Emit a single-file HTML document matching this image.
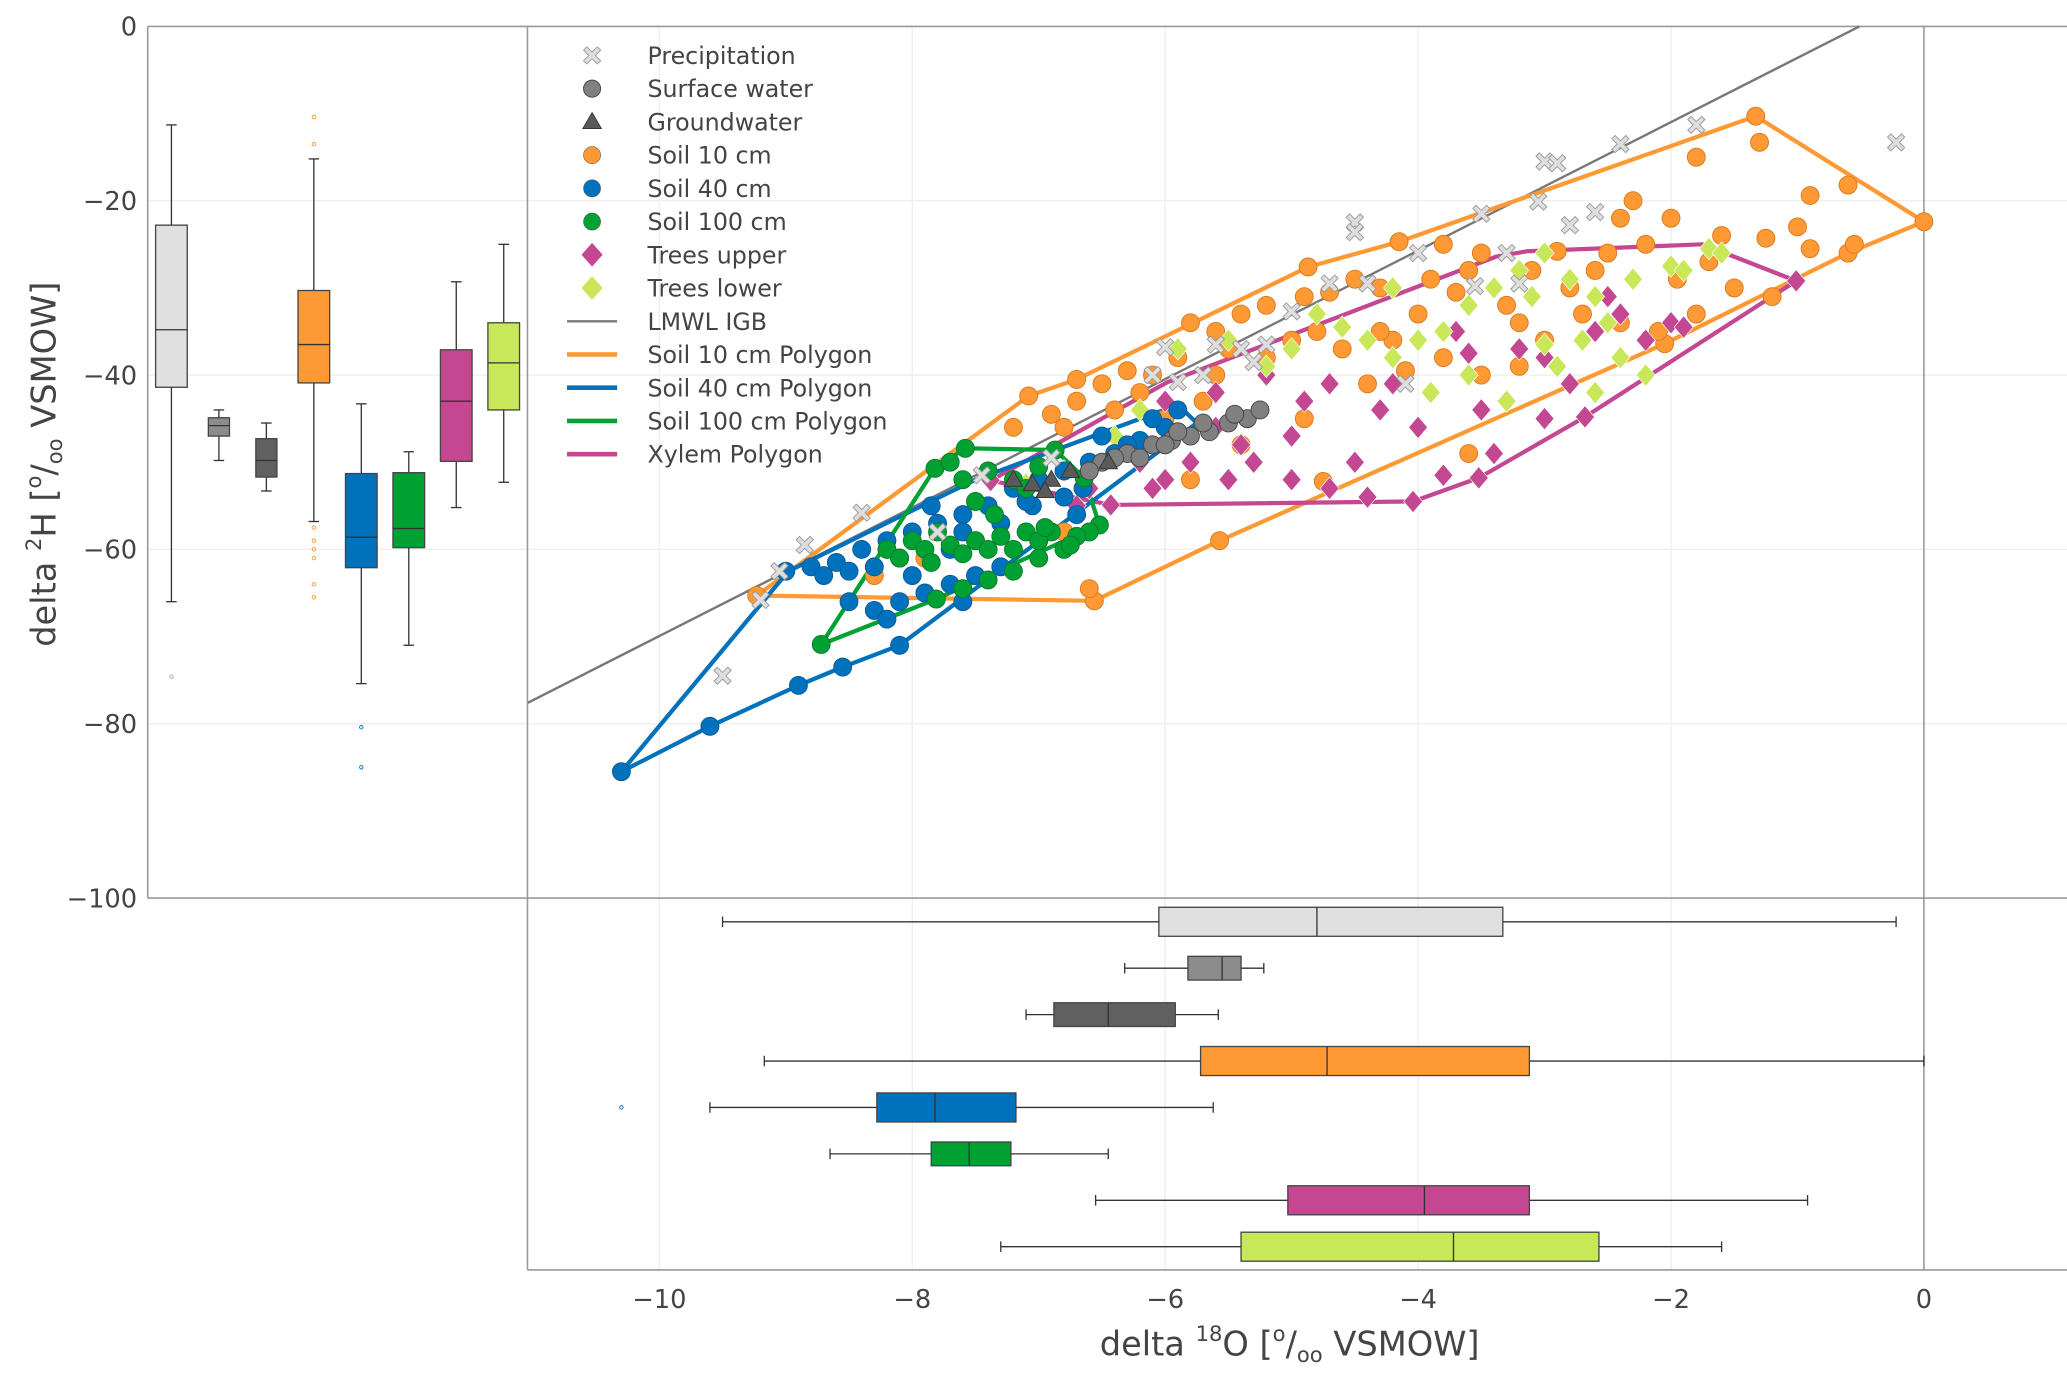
<!DOCTYPE html>
<html><head><meta charset="utf-8"><style>
html,body{margin:0;padding:0;background:#fff;}
svg{display:block;font-family:"DejaVu Sans","Liberation Sans",sans-serif;}
</style></head><body>
<svg id="chart" width="2067" height="1379" viewBox="0 0 1567.5 1045.7" xmlns="http://www.w3.org/2000/svg">
<g id="grid"></g>
<g id="frame"></g>
<g id="leftbox"></g>
<g id="botbox"></g>
<g id="polys"></g>
<g id="pts"></g>
<g id="ticks"></g>
<text x="978" y="1028" font-size="25.5" text-anchor="middle" fill="#444">delta <tspan font-size="16" dy="-11">18</tspan><tspan dy="11">O [</tspan><tspan font-size="16" dy="-11">o</tspan><tspan dy="11">/</tspan><tspan font-size="16" dy="5">oo</tspan><tspan dy="-5"> VSMOW]</tspan></text>
<text transform="translate(42,352) rotate(-90)" font-size="25.5" text-anchor="middle" fill="#444">delta <tspan font-size="16" dy="-11">2</tspan><tspan dy="11">H [</tspan><tspan font-size="16" dy="-11">o</tspan><tspan dy="11">/</tspan><tspan font-size="16" dy="5">oo</tspan><tspan dy="-5"> VSMOW]</tspan></text>
<g id="legend"></g>
</svg>
<script>
const xTicks=[-10,-8,-6,-4,-2,0];
const yTicks=[0,-20,-40,-60,-80,-100];
const lmwlSlope=7.37, lmwlIntercept=3.76;
const soil10PolyX=[-9.23,-7.08,-6.7,-4.87,-4.15,-1.33,0,-0.6,-2.05,-5.57,-6.56,-9.23];
const soil10PolyY=[-65.3,-42.4,-40.5,-27.6,-24.7,-10.3,-22.4,-26,-36.4,-59,-65.9,-65.3];
const soil40PolyX=[-10.3,-9.6,-8.9,-8.55,-8.1,-5.75,-5.9,-7.5,-8.98,-10.3];
const soil40PolyY=[-85.5,-80.3,-75.6,-73.5,-71,-45.5,-43.4,-52,-62.5,-85.5];
const soil100PolyX=[-8.72,-7.82,-7.58,-6.87,-6.64,-6.52,-7.81,-8.72];
const soil100PolyY=[-70.9,-50.7,-48.4,-48.6,-51.8,-57.2,-65.7,-70.9];
const xylemPolyX=[-7.38,-6.43,-4.04,-3.52,-2.68,-1.01,-1.75,-3.14,-3.38,-5.98,-7.38];
const xylemPolyY=[-52.1,-54.9,-54.5,-51.8,-44.8,-29.2,-25,-25.8,-26.4,-40.8,-52.1];
const soil10X=[-9.23,-7.08,-6.7,-4.87,-4.15,-1.33,0,-0.6,-2.05,-5.57,-6.56,-6.6,-1.3,-1.8,-0.9,-0.6,-0.9,-0.55,-1.25,-1.6,-2.4,-2.3,-2,-2.2,-2.5,-2.9,-3.1,-3.5,-3.6,-3.8,-3.9,-4.3,-4.5,-4.7,-4.9,-5.2,-5.4,-5.6,-5.8,-5.5,-5.2,-5.0,-4.8,-5.9,-6.1,-6.3,-6.5,-6.7,-6.9,-7.2,-6.8,-6.4,-6.2,-4.6,-4.2,-3.8,-3.5,-3.2,-3.0,-2.7,-2.4,-2.1,-1.8,-1.5,-1.2,-1.7,-3.3,-4.0,-4.4,-4.9,-5.4,-5.8,-4.75,-3.6,-4.3,-5.6,-6.0,-7.5,-7.9,-8.3,-6.8,-5.7,-3.7,-2.8,-2.6,-1.95,-1.0,-3.2,-4.1];
const soil10Y=[-65.3,-42.4,-40.5,-27.6,-24.7,-10.3,-22.4,-26,-36.4,-59,-65.9,-64.5,-13.3,-15,-19.4,-18.2,-25.5,-25,-24.3,-24,-22,-20,-22,-25,-26,-25.8,-28,-26,-28,-25,-29,-30,-29,-30.5,-31,-32,-33,-35,-34,-37,-38,-36,-35,-38,-40,-39.5,-41,-43,-44.5,-46,-46,-44,-42,-37,-36,-38,-40,-39,-36,-33,-34,-35,-33,-30,-31,-27,-32,-33,-41,-45,-48,-52,-52.2,-49,-35,-40,-45,-59,-61,-63,-58,-43,-30.5,-30,-28,-29,-23,-34,-39.5];
const soil40X=[-10.3,-9.6,-8.9,-8.55,-8.1,-9.0,-8.8,-8.6,-8.4,-8.2,-8.0,-7.8,-7.6,-7.4,-7.2,-7.0,-6.8,-6.6,-6.4,-6.2,-6.0,-5.9,-6.1,-6.3,-6.5,-8.5,-8.3,-8.1,-8.5,-8.3,-8.1,-7.9,-7.7,-7.5,-7.3,-8.2,-7.6,-7.85,-7.6,-7.3,-7.05,-6.65,-6.8,-7.0,-8.7,-8.0,-7.7,-6.7,-7.1];
const soil40Y=[-85.5,-80.3,-75.6,-73.5,-71,-62.5,-62,-61.5,-60,-59,-58,-57,-56,-55,-53,-52,-51,-50,-49,-47.5,-46,-44,-45,-48,-47,-62.5,-62,-61,-66,-67,-66,-65,-64,-63,-62,-68,-66,-55,-58,-57,-55,-53,-54,-59,-63,-63,-60,-56,-54.5];
const soil100X=[-8.72,-7.82,-7.58,-6.87,-6.64,-6.52,-7.81,-7.6,-7.4,-7.2,-7.0,-6.8,-6.6,-8.0,-7.9,-7.7,-7.5,-7.3,-7.1,-6.9,-6.7,-7.6,-7.4,-7.2,-7.0,-8.2,-8.1,-7.8,-7.6,-7.4,-7.2,-7.0,-7.7,-7.5,-7.35,-7.1,-6.95,-6.75,-7.85];
const soil100Y=[-70.9,-50.7,-48.4,-48.6,-51.8,-57.2,-65.7,-64.5,-63.5,-62.5,-61,-60,-58,-59,-60,-59.5,-59,-58.5,-58,-58,-58.5,-60.5,-60,-60,-59,-60,-61,-58,-52,-51,-52,-50.5,-50,-54.5,-56,-53,-57.5,-59.5,-61.5];
const treesUpperX=[-7.38,-6.43,-4.04,-3.52,-2.68,-1.01,-4.7,-4.4,-3.8,-3.4,-3.0,-3.5,-4.0,-4.3,-4.5,-5.0,-5.3,-5.6,-5.8,-6.1,-6.0,-5.5,-5.0,-4.7,-4.9,-5.2,-5.6,-6.0,-3.0,-2.6,-2.4,-2.2,-2.0,-2.5,-3.2,-3.6,-4.2,-1.9,-5.4,-6.2,-6.7,-3.7,-2.8,-6.6];
const treesUpperY=[-52.1,-54.9,-54.5,-51.8,-44.8,-29.2,-53,-54,-51.5,-49,-45,-44,-46,-44,-50,-52,-50,-46,-50,-53,-52,-52,-47,-41,-43,-40,-42,-43,-38,-35,-33,-36,-34,-31,-37,-37.5,-41,-34.5,-48,-50,-55,-35,-41,-53];
const treesLowerX=[-1.7,-1.6,-2.0,-2.3,-2.6,-2.8,-3.0,-3.2,-3.4,-3.6,-3.8,-4.0,-4.2,-4.4,-4.6,-4.8,-5.0,-5.2,-2.5,-2.4,-2.2,-2.9,-3.3,-3.6,-3.9,-4.2,-1.9,-2.7,-3.1,-5.5,-5.9,-6.2,-6.4,-6.8,-7.1,-7.0,-3.0,-2.6];
const treesLowerY=[-25.5,-26,-27.5,-29,-31,-29,-26,-28,-30,-32,-35,-36,-38,-36,-34.5,-33,-37,-39,-34,-38,-40,-39,-43,-40,-42,-30,-28,-36,-31,-36,-37,-44,-47,-51,-52.5,-51,-36.5,-42];
const surfaceX=[-6.5,-6.3,-6.1,-5.95,-5.8,-5.65,-5.5,-5.35,-5.25,-6.6,-6.2,-5.9,-5.7,-5.45,-6.4,-6.0];
const surfaceY=[-50,-49,-48,-47.5,-47,-46.5,-45.5,-45,-44,-51,-49.5,-46.5,-45.5,-44.5,-49.5,-48];
const groundX=[-6.75,-6.9,-7.05,-7.2,-6.45,-6.95];
const groundY=[-51,-52,-52.5,-52,-50,-53.3];
const precipX=[-9.2,-9.5,-9.05,-8.85,-8.4,-7.8,-7.45,-6.0,-6.1,-5.9,-5.6,-5.4,-5.2,-5.0,-4.7,-4.4,-4.5,-4.5,-4.0,-3.5,-3.3,-3.2,-3.0,-2.9,-2.8,-2.6,-2.4,-1.8,-0.22,-3.05,-4.1,-5.3,-6.9,-3.55,-5.7];
const precipY=[-65.8,-74.5,-62.5,-59.5,-55.8,-58,-51.5,-36.8,-40,-40.8,-36.5,-37,-36.5,-32.7,-29.5,-29.5,-22.5,-23.6,-26,-21.5,-26,-29.5,-15.5,-15.7,-22.8,-21.3,-13.5,-11.3,-13.3,-20.1,-41,-38.5,-49.5,-29.8,-40];
const boxNames=["precipitation","surface-water","groundwater","soil-10cm","soil-40cm","soil-100cm","trees-upper","trees-lower"];
const boxColors=["#e0e0e0","#8c8c8c","#606060","#ff9933","#0072bd","#00a133","#c44891","#c8e85a"];
const yLo=[-66,-49.8,-53.3,-56.8,-75.4,-71,-55.2,-52.3];
const yQ1=[-41.4,-47,-51.7,-40.9,-62.1,-59.8,-49.9,-44];
const yMed=[-34.8,-45.8,-49.8,-36.5,-58.6,-57.6,-43,-38.6];
const yQ3=[-22.8,-44.9,-47.3,-30.3,-51.3,-51.2,-37.1,-34];
const yHi=[-11.3,-44,-45.5,-15.2,-43.3,-48.8,-29.3,-25];
const yOutCat=[0,3,3,3,3,3,3,3,3,4,4];
const yOutVal=[-74.6,-10.4,-13.5,-57.5,-59,-60,-61,-64,-65.5,-80.4,-85];
const xLo=[-9.5,-6.32,-7.1,-9.17,-9.6,-8.65,-6.55,-7.3];
const xQ1=[-6.05,-5.82,-6.88,-5.72,-8.28,-7.85,-5.03,-5.4];
const xMed=[-4.8,-5.55,-6.45,-4.72,-7.82,-7.55,-3.95,-3.72];
const xQ3=[-3.33,-5.4,-5.92,-3.12,-7.18,-7.22,-3.12,-2.57];
const xHi=[-0.22,-5.22,-5.58,0,-5.62,-6.45,-0.92,-1.6];
const xOutCat=[4];
const xOutVal=[-10.3];
const legendLabels=["Precipitation","Surface water","Groundwater","Soil 10 cm","Soil 40 cm","Soil 100 cm","Trees upper","Trees lower","LMWL IGB","Soil 10 cm Polygon","Soil 40 cm Polygon","Soil 100 cm Polygon","Xylem Polygon"];

const NS="http://www.w3.org/2000/svg";
const X0=1459, XU=95.9, Y0=20, YU=6.61, XR=1567.5;
function xS(v){return X0+v*XU;}
function yS(v){return Y0-v*YU;}
function mk(parent,tag,attrs){const e=document.createElementNS(NS,tag);for(const k in attrs)e.setAttribute(k,attrs[k]);parent.appendChild(e);return e;}
const G=id=>document.getElementById(id);

const grid=G('grid');
yTicks.forEach(t=>{if(t===0||t===-100)return;const l=mk(grid,'line',{x1:112,x2:XR,y1:yS(t),y2:yS(t),stroke:'#eeeeee','stroke-width':1});

});
xTicks.forEach(t=>{if(t===0)return;const l=mk(grid,'line',{x1:xS(t),x2:xS(t),y1:20,y2:963,stroke:'#eeeeee','stroke-width':1});

});
const fr=G('frame');
[[112,20,XR,20],[112,20,112,681],[400,20,400,963],[112,681,XR,681],[400,963,XR,963],[xS(0),20,xS(0),963]].forEach(s=>{
const l=mk(fr,'line',{x1:s[0],y1:s[1],x2:s[2],y2:s[3],stroke:'#999','stroke-width':1.2});

});
const tk=G('ticks');
yTicks.forEach(t=>{const e=mk(tk,'text',{x:104,y:yS(t)+7,'font-size':19.5,'text-anchor':'end',fill:'#444'});e.textContent=(t<0?'\u2212'+(-t):t);

});
xTicks.forEach(t=>{const e=mk(tk,'text',{x:xS(t),y:992,'font-size':19.5,'text-anchor':'middle',fill:'#444'});e.textContent=(t<0?'\u2212'+(-t):t);

});

const lb=G('leftbox');
boxNames.forEach((n,i)=>{const cx=130+i*36, w=(i===1||i===2)?16:24;
const g=mk(lb,'g',{});


mk(g,'line',{x1:cx,x2:cx,y1:yS(yHi[i]),y2:yS(yLo[i]),stroke:'#333','stroke-width':1});
mk(g,'line',{x1:cx-4,x2:cx+4,y1:yS(yHi[i]),y2:yS(yHi[i]),stroke:'#333','stroke-width':1});
mk(g,'line',{x1:cx-4,x2:cx+4,y1:yS(yLo[i]),y2:yS(yLo[i]),stroke:'#333','stroke-width':1});
mk(g,'rect',{x:cx-w/2,y:yS(yQ3[i]),width:w,height:yS(yQ1[i])-yS(yQ3[i]),fill:boxColors[i],stroke:'#444','stroke-width':1});
mk(g,'line',{x1:cx-w/2,x2:cx+w/2,y1:yS(yMed[i]),y2:yS(yMed[i]),stroke:'#333','stroke-width':1});});
yOutCat.forEach((c,j)=>{const o=mk(lb,'circle',{cx:130+c*36,cy:yS(yOutVal[j]),r:1.3,fill:'none',stroke:c===0?'#aaa':boxColors[c],'stroke-width':0.7});

});
const bb=G('botbox');
boxNames.forEach((n,i)=>{const cy=699+i*35.2, h=(i===1||i===2||i===5)?18:22;
const g=mk(bb,'g',{});


mk(g,'line',{x1:xS(xLo[i]),x2:xS(xHi[i]),y1:cy,y2:cy,stroke:'#333','stroke-width':1});
mk(g,'line',{x1:xS(xLo[i]),x2:xS(xLo[i]),y1:cy-4,y2:cy+4,stroke:'#333','stroke-width':1});
mk(g,'line',{x1:xS(xHi[i]),x2:xS(xHi[i]),y1:cy-4,y2:cy+4,stroke:'#333','stroke-width':1});
mk(g,'rect',{x:xS(xQ1[i]),y:cy-h/2,width:xS(xQ3[i])-xS(xQ1[i]),height:h,fill:boxColors[i],stroke:'#444','stroke-width':1});
mk(g,'line',{x1:xS(xMed[i]),x2:xS(xMed[i]),y1:cy-h/2,y2:cy+h/2,stroke:'#333','stroke-width':1});});
xOutCat.forEach((c,j)=>{const o=mk(bb,'circle',{cx:xS(xOutVal[j]),cy:699+c*35.2,r:1.3,fill:'none',stroke:boxColors[c],'stroke-width':0.7});

});

const pg=G('polys');
const xa=-11.04, xb=(-lmwlIntercept)/lmwlSlope;
const lm=mk(pg,'line',{x1:xS(xa),y1:yS(lmwlSlope*xa+lmwlIntercept),x2:xS(xb),y2:yS(0),stroke:'#777','stroke-width':1.8});


function poly(xs,ys,col,name){const p=mk(pg,'polyline',{points:xs.map((x,i)=>xS(x)+','+yS(ys[i])).join(' '),fill:'none',stroke:col,'stroke-width':3.2,'stroke-linejoin':'round'});

}
poly(soil10PolyX,soil10PolyY,'#ff9933','soil-10cm-polygon');

const pt=G('pts');
function circles(xs,ys,fill,stroke,name){xs.forEach((x,i)=>{const c=mk(pt,'circle',{cx:xS(x),cy:yS(ys[i]),r:6.8,fill:fill,stroke:stroke,'stroke-width':0.7});

});}
function diamonds(xs,ys,fill,name){xs.forEach((x,i)=>{const cx=xS(x),cy=yS(ys[i]),s=8.5;const d=mk(pt,'polygon',{points:`${cx},${cy-s} ${cx+s*0.85},${cy} ${cx},${cy+s} ${cx-s*0.85},${cy}`,fill:fill,stroke:'#fff','stroke-width':0.5});

});}
function xmark(cx,cy,s){return `M${cx-s},${cy-s+2.5} L${cx-s+2.5},${cy-s} L${cx},${cy-2.5} L${cx+s-2.5},${cy-s} L${cx+s},${cy-s+2.5} L${cx+2.5},${cy} L${cx+s},${cy+s-2.5} L${cx+s-2.5},${cy+s} L${cx},${cy+2.5} L${cx-s+2.5},${cy+s} L${cx-s},${cy+s-2.5} L${cx-2.5},${cy} Z`;}
circles(soil10X,soil10Y,'#ff9933','#d97a1f','soil-10cm-point');
diamonds(treesUpperX,treesUpperY,'#c44891','trees-upper-point');
diamonds(treesLowerX,treesLowerY,'#c8e85a','trees-lower-point');
poly(xylemPolyX,xylemPolyY,'#c44891','xylem-polygon');
circles(soil40X,soil40Y,'#0072bd','#0a5a94','soil-40cm-point');
poly(soil40PolyX,soil40PolyY,'#0072bd','soil-40cm-polygon');
circles(soil100X,soil100Y,'#00a133','#0a7a2a','soil-100cm-point');
poly(soil100PolyX,soil100PolyY,'#00a133','soil-100cm-polygon');
circles(surfaceX,surfaceY,'#808080','#444','surface-water-point');
groundX.forEach((x,i)=>{const cx=xS(x),cy=yS(groundY[i]);const t=mk(pt,'polygon',{points:`${cx},${cy-7} ${cx+7},${cy+5} ${cx-7},${cy+5}`,fill:'#5a5a5a',stroke:'#333','stroke-width':0.7});

});
precipX.forEach((x,i)=>{const p=mk(pt,'path',{d:xmark(xS(x),yS(precipY[i]),6.5),fill:'#dedede',stroke:'#999','stroke-width':0.7});

});

const lg=G('legend');
legendLabels.forEach((lab,i)=>{const y=42+i*25.2, mx=449;
const g=mk(lg,'g',{});


if(i===0) mk(g,'path',{d:xmark(mx,y,6.5),fill:'#dedede',stroke:'#999','stroke-width':0.7});
else if(i===1) mk(g,'circle',{cx:mx,cy:y,r:6.5,fill:'#808080',stroke:'#444','stroke-width':0.7});
else if(i===2) mk(g,'polygon',{points:`${mx},${y-7} ${mx+7},${y+5} ${mx-7},${y+5}`,fill:'#5a5a5a',stroke:'#333','stroke-width':0.7});
else if(i<6) mk(g,'circle',{cx:mx,cy:y,r:6.5,fill:['','','','#ff9933','#0072bd','#00a133'][i],stroke:'#555','stroke-width':0.4});
else if(i<8){const f=i===6?'#c44891':'#c8e85a';mk(g,'polygon',{points:`${mx},${y-9} ${mx+8},${y} ${mx},${y+9} ${mx-8},${y}`,fill:f});}
else {const col=['#777','#ff9933','#0072bd','#00a133','#c44891'][i-8];mk(g,'line',{x1:430,x2:468,y1:y,y2:y,stroke:col,'stroke-width':i===8?1.8:3.5});}
const t=mk(g,'text',{x:491,y:y+6.5,'font-size':18,fill:'#444'});t.textContent=lab;});
</script>
</body></html>
